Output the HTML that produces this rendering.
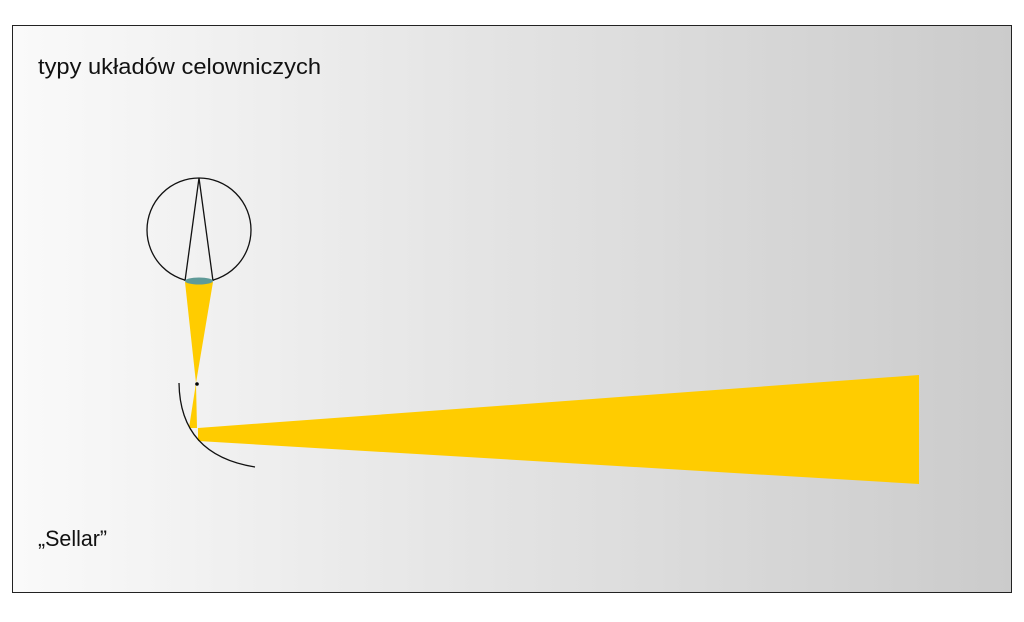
<!DOCTYPE html>
<html><head><style>
body{margin:0;background:#fff;width:1024px;height:617px;overflow:hidden;font-family:"Liberation Sans",sans-serif}
</style></head><body>
<svg width="1024" height="617" viewBox="0 0 1024 617" xmlns="http://www.w3.org/2000/svg">
<defs><linearGradient id="g" x1="0" x2="1" y1="0" y2="0"><stop offset="0" stop-color="#fafafa"/><stop offset="1" stop-color="#cbcbcb"/></linearGradient></defs>
<rect x="12.5" y="25.5" width="999" height="567" fill="url(#g)" stroke="#222" stroke-width="1"/>
<text x="38" y="74" font-size="22" fill="#111" textLength="283" lengthAdjust="spacingAndGlyphs">typy układów celowniczych</text>
<text x="38" y="546" font-size="22" fill="#111" textLength="69" lengthAdjust="spacingAndGlyphs">„Sellar”</text>
<circle cx="199" cy="230" r="52" fill="none" stroke="#111" stroke-width="1.3"/>
<polyline points="185,281 199,178 213,281" fill="none" stroke="#111" stroke-width="1.3"/>
<polygon points="185,282 213,282 196,383" fill="#ffcc00"/>
<ellipse cx="199" cy="281" rx="14" ry="3.5" fill="#5f9a98"/>
<polygon points="196,383 189,428 197,428" fill="#ffcc00"/>
<polygon points="198,428 919,375 919,484 198,441" fill="#ffcc00"/>
<path d="M179,383 Q180,455 255,467" fill="none" stroke="#111" stroke-width="1.3"/>
<circle cx="197" cy="384" r="1.8" fill="#000"/>
</svg>
</body></html>
